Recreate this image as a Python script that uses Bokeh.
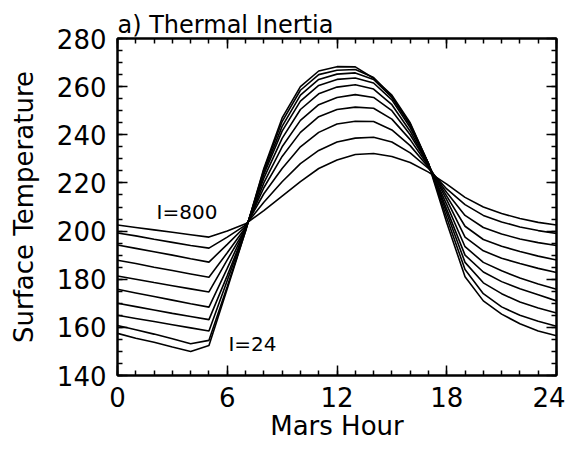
from bokeh.plotting import figure
from bokeh.models import LinearAxis, Range1d, FixedTicker, Label, CustomJSTickFormatter
from bokeh.embed import file_html
from bokeh.resources import INLINE

hours = list(range(25))

# Surface temperature (K) per Mars hour, from highest thermal inertia (I=800) to lowest (I=24)
t_i800 = [202.5, 201.5, 200.5, 199.5, 198.5, 197.5, 200.0, 203.0, 208.5, 214.5, 220.5, 226.0, 229.5,
          231.8, 232.2, 231.0, 228.5, 224.5, 219.5, 214.0, 210.0, 207.3, 205.2, 203.6, 202.5]
t_c1 = [199.2, 198.0, 196.6, 195.3, 194.0, 192.9, 197.5, 202.5, 212.0, 220.5, 228.0, 233.5, 237.0,
        238.6, 239.0, 237.0, 232.5, 226.0, 217.5, 211.0, 206.5, 203.8, 201.7, 200.2, 199.0]
t_c2 = [194.2, 192.8, 191.4, 190.0, 188.5, 187.1, 194.5, 202.0, 215.5, 226.0, 235.0, 241.0, 244.5,
        245.6, 245.5, 242.0, 235.5, 226.5, 216.0, 206.5, 201.5, 198.8, 196.7, 195.2, 194.0]
t_c3 = [187.9, 186.5, 185.0, 183.6, 182.2, 180.8, 191.0, 201.5, 218.0, 231.0, 241.0, 247.5, 250.5,
        251.5, 251.0, 246.5, 238.0, 227.0, 214.5, 202.0, 196.5, 193.7, 191.5, 189.6, 188.0]
t_c4 = [181.3, 180.0, 178.6, 177.3, 176.0, 174.7, 188.0, 201.0, 220.0, 235.0, 246.0, 252.5, 255.5,
        256.7, 255.5, 250.0, 240.0, 227.5, 213.0, 197.5, 191.8, 188.7, 186.5, 184.5, 182.8]
t_c5 = [175.8, 174.3, 172.8, 171.3, 169.8, 168.4, 184.5, 201.0, 222.0, 238.5, 250.5, 257.0, 259.8,
        260.8, 259.0, 252.5, 241.5, 227.5, 211.0, 193.5, 187.0, 183.5, 180.5, 178.0, 175.8]
t_c6 = [170.0, 168.6, 167.2, 165.8, 164.5, 163.2, 181.5, 200.5, 223.5, 241.5, 254.0, 260.5, 263.0,
        263.6, 261.5, 254.5, 243.0, 228.0, 209.0, 190.0, 183.0, 179.0, 176.0, 173.5, 171.0]
t_c7 = [165.0, 163.7, 162.4, 161.1, 159.8, 158.5, 179.5, 200.5, 224.5, 243.5, 256.5, 263.0, 265.2,
        265.7, 263.0, 255.5, 244.0, 228.0, 207.5, 187.0, 178.5, 174.0, 170.5, 168.0, 166.0]
t_c8 = [160.8, 159.0, 157.2, 155.3, 153.2, 154.6, 177.0, 200.0, 225.5, 245.5, 258.5, 265.0, 266.8,
        267.1, 263.8, 256.0, 244.5, 228.0, 205.5, 184.0, 174.0, 168.5, 165.0, 162.5, 160.5]
t_i24 = [157.5, 155.5, 153.8, 151.8, 150.0, 152.5, 176.0, 200.0, 226.0, 247.0, 260.0, 266.5, 268.3,
         268.2, 263.5, 256.5, 245.0, 228.0, 203.5, 181.0, 171.0, 165.5, 161.5, 158.5, 156.5]

series = [t_i800, t_c1, t_c2, t_c3, t_c4, t_c5, t_c6, t_c7, t_c8, t_i24]

x_ticks = [0, 6, 12, 18, 24]
y_ticks = [140, 160, 180, 200, 220, 240, 260, 280]

FONT = "DejaVu Sans"

p = figure(width=565, height=447, output_backend="svg", toolbar_location=None,
           x_range=Range1d(0, 24), y_range=Range1d(140, 280),
           min_border_left=117, min_border_right=9, min_border_top=38, min_border_bottom=72)
p.grid.visible = False
p.outline_line_color = "black"
p.outline_line_width = 2
p.background_fill_color = "white"
p.border_fill_color = "white"

p.title.text = "a) Thermal Inertia"
p.title.text_font = FONT
p.title.text_font_size = "24px"
p.title.text_font_style = "normal"
p.title.text_color = "black"
p.title.align = "left"
p.title.standoff = 0
p.title.offset = 0

for s in series:
    p.line(hours, s, line_color="black", line_width=1.6)

def style_axis(ax, labels=True):
    ax.axis_line_color = "black"
    ax.axis_line_width = 2
    ax.major_tick_in = 10
    ax.major_tick_out = 0
    ax.minor_tick_in = 5
    ax.minor_tick_out = 0
    ax.major_tick_line_width = 1.5
    ax.minor_tick_line_width = 1.5
    ax.major_tick_line_color = "black"
    ax.minor_tick_line_color = "black"
    if labels:
        ax.major_label_text_font = FONT
        ax.major_label_text_font_size = "26px"
        ax.major_label_text_color = "black"
        ax.axis_label_text_font = FONT
        ax.axis_label_text_font_size = "26px"
        ax.axis_label_text_font_style = "normal"
        ax.axis_label_text_color = "black"
    else:
        ax.major_label_text_font_size = "1px"
        ax.major_label_standoff = 0
        ax.formatter = CustomJSTickFormatter(code="return ''")

xb = p.xaxis[0]
xb.ticker = FixedTicker(ticks=x_ticks, minor_ticks=list(range(25)))
xb.axis_label = "Mars Hour"
style_axis(xb)
xb.major_label_standoff = 11
xb.axis_label_standoff = 1

yl = p.yaxis[0]
yl.ticker = FixedTicker(ticks=y_ticks, minor_ticks=list(range(140, 281, 5)))
yl.axis_label = "Surface Temperature"
style_axis(yl)
yl.major_label_standoff = 11
yl.axis_label_standoff = 15

xt = LinearAxis(ticker=FixedTicker(ticks=x_ticks, minor_ticks=list(range(25))))
style_axis(xt, labels=False)
p.add_layout(xt, "above")
yr = LinearAxis(ticker=FixedTicker(ticks=y_ticks, minor_ticks=list(range(140, 281, 5))))
style_axis(yr, labels=False)
p.add_layout(yr, "right")

p.add_layout(Label(x=3.8, y=207.9, text="I=800", text_font=FONT, text_font_size="20px",
                   text_baseline="middle", text_align="center", text_color="black"))
p.add_layout(Label(x=7.38, y=153.0, text="I=24", text_font=FONT, text_font_size="20px",
                   text_baseline="middle", text_align="center", text_color="black"))

open("out.html", "w").write(file_html(p, INLINE))
